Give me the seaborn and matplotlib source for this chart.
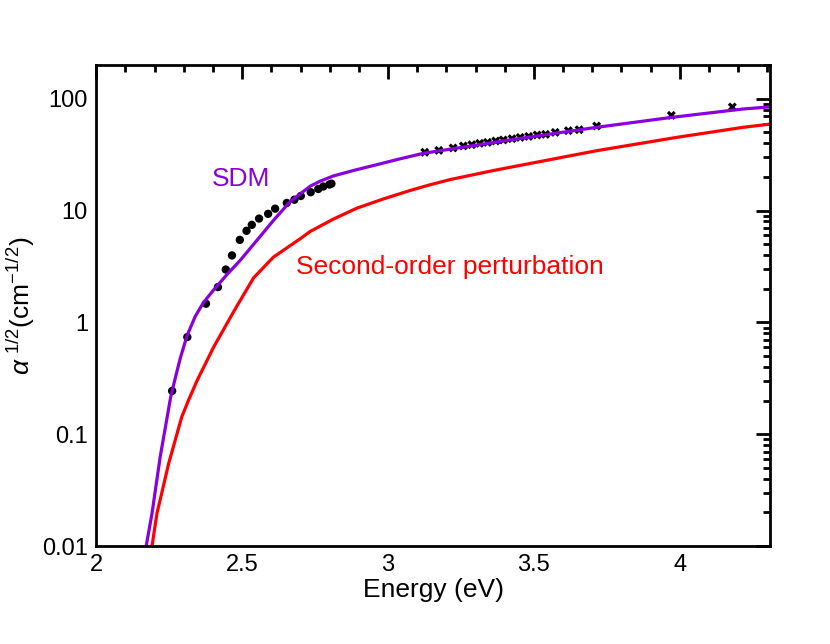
import numpy as np
import pandas as pd
import seaborn as sns
import matplotlib
matplotlib.use('Agg')
import matplotlib.pyplot as plt
from matplotlib.ticker import FixedLocator, MultipleLocator, LogLocator, NullFormatter

# SDM curve (purple)
sdm_energy = [2.171, 2.191, 2.219, 2.255, 2.271, 2.288, 2.311, 2.339, 2.367, 2.402,
              2.448, 2.493, 2.550, 2.607, 2.664, 2.699, 2.733, 2.767, 2.813, 2.881,
              2.961, 3.041, 3.121, 3.418, 3.715, 3.972, 4.216, 4.31]
sdm_alpha = [0.01, 0.0196, 0.0627, 0.215, 0.32, 0.48, 0.76, 1.13, 1.5, 1.95,
             2.68, 3.58, 5.40, 8.15, 12.0, 14.1, 16.5, 18.3, 20.4, 22.8,
             25.7, 29.0, 32.5, 42.8, 55.5, 68.1, 80.9, 84.5]

# second-order perturbation curve (red)
pert_energy = [2.191, 2.208, 2.248, 2.293, 2.316, 2.345, 2.402, 2.459, 2.482, 2.522,
               2.539, 2.607, 2.699, 2.733, 2.813, 2.893, 2.984, 3.075, 3.144, 3.212,
               3.361, 3.715, 3.989, 4.217, 4.31]
pert_alpha = [0.01, 0.0196, 0.0547, 0.143, 0.201, 0.30, 0.60, 1.1, 1.4, 2.1,
              2.5, 3.83, 5.6, 6.5, 8.4, 10.5, 12.7, 15.1, 17.0, 18.9,
              22.8, 34.3, 45.1, 55.5, 59.3]

# measured points, low energy (dots)
dots_energy = [2.260, 2.312, 2.376, 2.417, 2.444, 2.465, 2.492, 2.515, 2.533, 2.558,
               2.589, 2.613, 2.653, 2.679, 2.701, 2.735, 2.761, 2.778, 2.799, 2.806]
dots_alpha = [0.244, 0.74, 1.47, 2.07, 2.97, 3.97, 5.47, 6.59, 7.45, 8.48,
              9.35, 10.4, 11.7, 12.5, 13.5, 14.6, 15.6, 16.4, 17.1, 17.4]

# measured points, high energy (crosses)
cross_energy = [3.126, 3.174, 3.223, 3.258, 3.287, 3.314, 3.341, 3.369, 3.395, 3.425,
                3.453, 3.482, 3.511, 3.540, 3.573, 3.618, 3.655, 3.715, 3.971, 4.180]
cross_alpha = [33.2, 34.5, 36.3, 37.8, 38.8, 39.9, 40.7, 41.9, 42.8, 43.9,
               45.1, 46.0, 47.4, 48.0, 50.0, 51.8, 52.8, 57.0, 71.0, 84.4]

sns.set_style('white')
plt.rcParams['font.family'] = ['Liberation Sans', 'DejaVu Sans']
plt.rcParams['mathtext.fontset'] = 'custom'
plt.rcParams['mathtext.rm'] = 'Liberation Sans'
plt.rcParams['mathtext.it'] = 'Liberation Sans:italic'
plt.rcParams['text.color'] = 'black'
plt.rcParams['axes.labelcolor'] = 'black'
plt.rcParams['xtick.color'] = 'black'
plt.rcParams['ytick.color'] = 'black'

fig = plt.figure(figsize=(8.3, 6.44), dpi=100)
ax = fig.add_axes([0.116, 0.152, 0.812, 0.747])

sns.lineplot(x=sdm_energy, y=sdm_alpha, color='#8800dd', linewidth=2.3, ax=ax)
sns.lineplot(x=pert_energy, y=pert_alpha, color='#ff0000', linewidth=2.3, ax=ax)
sns.scatterplot(x=dots_energy, y=dots_alpha, color='black', s=36, edgecolor='none', ax=ax)
sns.scatterplot(x=cross_energy, y=cross_alpha, color='black', marker='X', s=42,
                edgecolor='none', ax=ax)

ax.set_yscale('log')
ax.set_xlim(2, 4.31)
ax.set_ylim(0.01, 200)

ax.xaxis.set_major_locator(FixedLocator([2, 2.5, 3, 3.5, 4]))
ax.xaxis.set_minor_locator(MultipleLocator(0.1))
ax.set_xticklabels(['2', '2.5', '3', '3.5', '4'])
ax.yaxis.set_major_locator(FixedLocator([0.01, 0.1, 1, 10, 100]))
ax.yaxis.set_minor_locator(LogLocator(base=10, subs=np.arange(2, 10)))
ax.yaxis.set_minor_formatter(NullFormatter())
ax.set_yticklabels(['0.01', '0.1', '1', '10', '100'])

ax.tick_params(which='both', direction='in', top=True, right=True, width=2,
               labelsize=17, pad=6)
ax.tick_params(which='major', length=10)
ax.tick_params(which='minor', length=5)
for s in ax.spines.values():
    s.set_linewidth(2)
    s.set_color('black')

ax.set_xlabel('Energy (eV)', fontsize=19, labelpad=1)
ax.set_ylabel(r'$\alpha^{\ 1/2}$(cm$^{-1/2}$)', fontsize=19, labelpad=4)

ax.text(2.395, 19.3, 'SDM', color='#8800dd', fontsize=19, va='center', ha='left')
ax.text(2.685, 3.1, 'Second-order perturbation', color='#ff0000', fontsize=19,
        va='center', ha='left')

fig.savefig('out.png', dpi=100)
